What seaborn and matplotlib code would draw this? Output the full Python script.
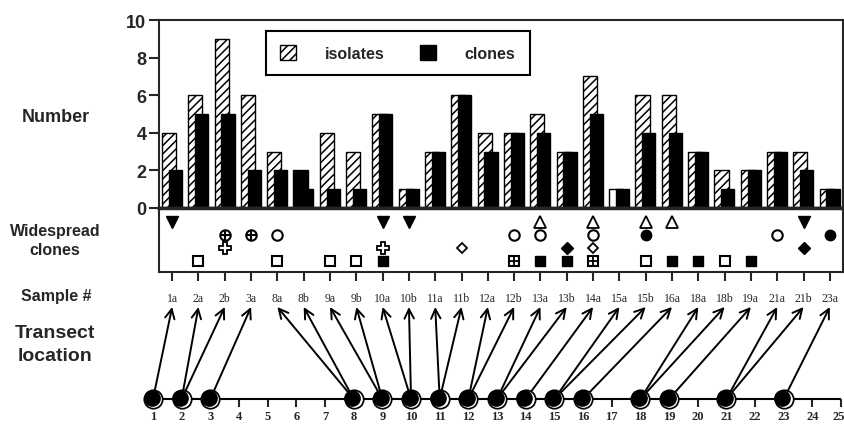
import numpy as np
import matplotlib
matplotlib.use("Agg")
import matplotlib.pyplot as plt
from matplotlib.patches import Patch
from matplotlib.transforms import offset_copy, ScaledTranslation
import seaborn as sns

# ==========================================
# datos
samples = ['1a', '2a', '2b', '3a', '8a', '8b', '9a', '9b', '10a', '10b', '11a', '11b', '12a',
           '12b', '13a', '13b', '14a', '15a', '15b', '16a', '18a', '18b', '19a', '21a', '21b', '23a']
isolates = [4, 6, 9, 6, 3, 2, 4, 3, 5, 1, 3, 6, 4, 4, 5, 3, 7, 1, 6, 6, 3, 2, 2, 3, 3, 1]
clones = [2, 5, 5, 2, 2, 1, 1, 1, 5, 1, 3, 6, 3, 4, 4, 3, 5, 1, 4, 4, 3, 1, 2, 3, 2, 1]
transect = [1, 2, 2, 3, 8, 8, 9, 9, 10, 10, 11, 11, 12, 12, 13, 13, 14, 15, 15, 16, 18, 18, 19, 21, 21, 23]
locations = list(range(1, 26))

# barras raras en el original
iso_solid = ['8b']   # sale negra
iso_plain = ['15a']  # sin rayado

# clones extendidos (fila 4 = arriba)
tri_down = ['1a', '10a', '10b', '21b']
tri_up = ['13a', '14a', '15b', '16a']
circ_plus = ['2b', '3a']
circ_open = ['8a', '12b', '13a', '14a', '21a']
circ_fill = ['15b', '23a']
cross_open = ['2b', '10a']
diam_open = ['11b', '14a']
diam_fill = ['13b', '21b']
sq_open = ['2a', '8a', '9a', '9b', '15b', '18b']
sq_fill = ['10a', '13a', '13b', '16a', '18a', '19a']
sq_plus = ['12b', '14a']

# ==========================================
sns.set_style("ticks")
plt.rcParams['font.family'] = ['Liberation Sans', 'DejaVu Sans']
plt.rcParams['hatch.linewidth'] = 1.1

W, H = 845, 427
def px(l, t, r, b):
    return [l / W, 1 - b / H, (r - l) / W, (b - t) / H]

fig = plt.figure(figsize=(W / 100, H / 100), dpi=100)
ax1 = fig.add_axes(px(159, 21, 843, 209))
ax2 = fig.add_axes(px(159, 209, 843, 273))
axt = fig.add_axes(px(130, 308, 845, 400))

x = np.arange(len(samples))

# barras
sns.barplot(x=x - 0.12, y=isolates, native_scale=True, width=0.54, orient='x', color='white',
            saturation=1, edgecolor='black', linewidth=1, errorbar=None, ax=ax1)
for s, p in zip(samples, ax1.patches):
    if s in iso_solid:
        p.set_facecolor('black')
    elif s not in iso_plain:
        p.set_hatch('////')
sns.barplot(x=x + 0.12, y=clones, native_scale=True, width=0.5, orient='x', color='black',
            saturation=1, edgecolor='black', linewidth=1, errorbar=None, ax=ax1)

ax1.set_xlim(-0.5, len(samples) - 0.5)
ax1.set_ylim(0, 10)
ax1.set_xticks([])
ax1.set_xlabel('')
ax1.set_ylabel('')
ax1.set_yticks(range(0, 11, 2))
ax1.set_yticklabels([str(v) for v in range(0, 11, 2)], fontsize=13, fontweight='bold')
ax1.tick_params(axis='y', direction='out', length=7, width=1.5, pad=2)
for sp in ax1.spines.values():
    sp.set_visible(True)
    sp.set_linewidth(1.5)
ax1.spines['bottom'].set_linewidth(2.5)

handles = [Patch(facecolor='white', edgecolor='black', hatch='////', label='isolates'),
           Patch(facecolor='black', edgecolor='black', label='clones')]
leg = ax1.legend(handles=handles, ncol=2, loc='center', bbox_to_anchor=(0.349, 0.824),
                 fancybox=False, framealpha=1, edgecolor='black', handlelength=1.0,
                 handleheight=1.0, handletextpad=1.8, columnspacing=2.2, borderpad=0.9,
                 prop={'size': 11.5, 'weight': 'bold'})
leg.get_frame().set_linewidth(1.5)

# clones extendidos
def marcar(lista, fila, **kw):
    idx = [samples.index(s) for s in lista]
    ax2.plot(idx, [fila] * len(idx), linestyle='none', clip_on=False, **kw)

marcar(tri_down, 4, marker='v', ms=8, mfc='black', mec='black')
marcar(tri_up, 4, marker='^', ms=8, mfc='white', mec='black', mew=1.3)
marcar(circ_plus, 3, marker='o', ms=7.5, mfc='white', mec='black', mew=1.5)
marcar(circ_plus, 3, marker='+', ms=7.5, mec='black', mew=1.5)
marcar(circ_open, 3, marker='o', ms=7.5, mfc='white', mec='black', mew=1.5)
marcar(circ_fill, 3, marker='o', ms=7.5, mfc='black', mec='black')
marcar(cross_open, 2, marker='P', ms=8.5, mfc='white', mec='black', mew=1.3)
marcar(diam_open, 2, marker='D', ms=5.5, mfc='white', mec='black', mew=1.3)
marcar(diam_fill, 2, marker='D', ms=6, mfc='black', mec='black')
marcar(sq_open, 1, marker='s', ms=7, mfc='white', mec='black', mew=1.5)
marcar(sq_fill, 1, marker='s', ms=7.5, mfc='black', mec='black')
marcar(sq_plus, 1, marker='s', ms=7, mfc='white', mec='black', mew=1.5)
marcar(sq_plus, 1, marker='+', ms=7, mec='black', mew=1.3)

ax2.set_xlim(-0.5, len(samples) - 0.5)
ax2.set_ylim(0.15, 5.08)
ax2.set_yticks([])
ax2.set_xticks(x)
ax2.set_xticklabels(samples, fontsize=8.5, family='Liberation Serif')
ax2.tick_params(axis='x', direction='out', length=6.5, width=1.5, pad=8)
for sp in ax2.spines.values():
    sp.set_visible(True)
    sp.set_linewidth(1.5)
ax2.spines['top'].set_linewidth(2.5)

# transecto
axt.set_xlim(1 - 23 / 28.67, 1 + 692 / 28.67)
axt.set_ylim(0, 1)
for sp in axt.spines.values():
    sp.set_visible(False)
axt.set_yticks([])
axt.set_xticks(locations)
axt.set_xticklabels([str(v) for v in locations], fontsize=9, family='Liberation Serif',
                    fontweight='bold')
axt.tick_params(axis='x', direction='out', length=5.5, width=1.5, pad=2.5)
axt.hlines(0, locations[0], locations[-1], color='black', lw=1.5, clip_on=False)
# el 25 queda pegado al borde, se corre un poco
ult = axt.get_xticklabels()[-1]
ult.set_ha('right')
ult.set_transform(ult.get_transform() + ScaledTranslation(0.035, 0, fig.dpi_scale_trans))

for i, loc in enumerate(transect):
    axt.annotate('', xy=(i, 1), xycoords=(ax1.transData, 'axes fraction'),
                 xytext=(loc, 0), textcoords='data', annotation_clip=False,
                 arrowprops=dict(arrowstyle='->', lw=1.4, color='black',
                                 shrinkA=0, shrinkB=0, mutation_scale=17))

sitios = sorted(set(transect))
cero = [0] * len(sitios)
axt.plot(sitios, cero, 'o', ms=13.5, color='black', clip_on=False, zorder=5)
axt.plot(sitios, cero, 'o', ms=11, color='white', clip_on=False, zorder=6)
sombra = offset_copy(axt.transData, fig=fig, x=-1.3, y=1.3, units='dots')
axt.plot(sitios, cero, 'o', ms=11, color='black', clip_on=False, zorder=7, transform=sombra)

# rotulos de la izquierda
def rotulo(xp, yp, txt, size, ls=1.2):
    fig.text(xp / W, 1 - yp / H, txt, ha='center', va='center', fontsize=size,
             fontweight='bold', linespacing=ls, multialignment='center')

rotulo(56, 117, 'Number', 13)
rotulo(55, 241, 'Widespread\nclones', 11.5, 1.35)
rotulo(56, 297, 'Sample #', 11.5)
rotulo(55, 345, 'Transect\nlocation', 14, 1.4)

fig.savefig("out.png", dpi=100)
